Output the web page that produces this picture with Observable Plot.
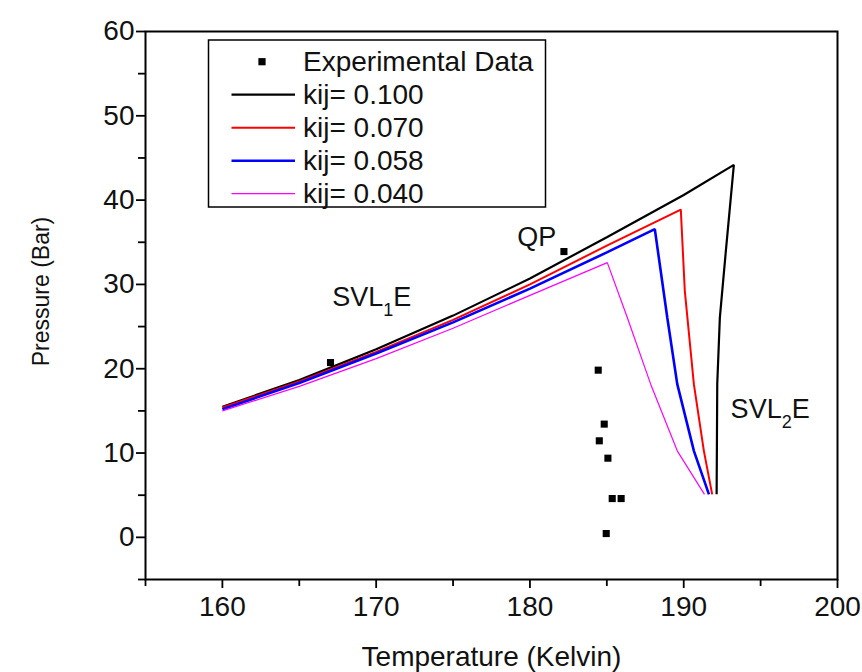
<!DOCTYPE html>
<html>
<head>
<meta charset="utf-8">
<script src="https://cdn.jsdelivr.net/npm/d3@7"></script>
<script src="https://cdn.jsdelivr.net/npm/@observablehq/plot@0.6"></script>
<style>
  html, body { margin: 0; padding: 0; background: #ffffff; }
  #chart { width: 862px; height: 672px; }
</style>
</head>
<body>
<div id="chart"></div>
<script>
// ---------- data ----------
const seriesNames  = ["kij= 0.100", "kij= 0.070", "kij= 0.058", "kij= 0.040"];
const seriesColors = ["#000000", "#ff0000", "#0000ff", "#ff00ff"];
const seriesWidths = [2.2, 2, 2.6, 1.2];

const k100T = [160, 165, 170, 175, 180, 185, 190, 193.26, 192.74, 192.35, 192.18, 192.14];
const k100P = [15.5, 18.65, 22.3, 26.3, 30.7, 35.6, 40.6, 44.18, 33.98, 26.07, 18.17, 5.1];

const k070T = [160, 165, 170, 175, 180, 185, 189.81, 190.07, 190.66, 191.31, 191.85];
const k070P = [15.4, 18.5, 22.0, 25.8, 30.0, 34.6, 38.88, 29.24, 18.17, 10.26, 5.1];

const k058T = [160, 165, 170, 175, 180, 185, 188.12, 188.93, 189.58, 190.66, 191.64];
const k058P = [15.2, 18.3, 21.8, 25.5, 29.5, 33.8, 36.56, 26.07, 18.17, 10.26, 5.1];

const k040T = [160, 165, 170, 175, 180, 185.03, 186.33, 187.85, 189.58, 191.35];
const k040P = [15.0, 17.9, 21.2, 24.8, 28.7, 32.59, 26.07, 18.17, 10.26, 5.1];

const expT = [167.03, 182.21, 184.44, 184.83, 184.51, 185.07, 185.35, 185.93, 184.96];
const expP = [20.73, 33.9, 19.83, 13.43, 11.45, 9.39, 4.6, 4.6, 0.45];

const annotText = ["SVL|1|E", "QP", "SVL|2|E"];
const annotT = [167.14, 179.18, 193.05];
const annotP = [27.46, 34.57, 14.21];

const xMajor = [160, 170, 180, 190, 200];
const xMinor = [155, 165, 175, 185, 195];
const yMajor = [0, 10, 20, 30, 40, 50, 60];
const yMinor = [-5, 5, 15, 25, 35, 45, 55];

// ---------- tables ----------
const seriesT = [k100T, k070T, k058T, k040T];
const seriesP = [k100P, k070P, k058P, k040P];
const lines = [];
seriesNames.forEach((name, i) => {
  seriesT[i].forEach((t, j) => lines.push({series: name, T: t, P: seriesP[i][j], idx: i}));
});
const exp = expT.map((t, i) => ({T: t, P: expP[i]}));
const annots = annotText.map((s, i) => ({text: s, T: annotT[i], P: annotP[i]}));

const font = "'Liberation Sans', Arial, Helvetica, sans-serif";

const lineMarks = seriesNames.map((name, i) =>
  Plot.line(lines.filter(d => d.idx === i), {
    x: "T", y: "P", stroke: seriesColors[i], strokeWidth: seriesWidths[i],
    strokeLinejoin: "miter", strokeLinecap: "butt"
  })
);

const chart = Plot.plot({
  width: 862,
  height: 672,
  marginLeft: 145,
  marginRight: 25,
  marginTop: 31,
  marginBottom: 93,
  style: {fontFamily: font, background: "#ffffff", color: "#000000", overflow: "visible"},
  x: {domain: [155, 200]},
  y: {domain: [-5, 60]},
  marks: [
    Plot.axisX({ticks: xMinor, tickSize: 7, tickFormat: () => "", strokeWidth: 1.8, label: null}),
    Plot.axisX({ticks: xMajor, tickSize: 9, tickPadding: 8, tickFormat: d3.format("d"),
      fontSize: 28, strokeWidth: 1.8, label: "Temperature (Kelvin)", labelAnchor: "center",
      labelOffset: 86, labelArrow: "none"}),
    Plot.axisY({ticks: yMinor, tickSize: 7, tickFormat: () => "", strokeWidth: 1.8, label: null}),
    Plot.axisY({ticks: yMajor, tickSize: 9, tickPadding: 2, tickFormat: d3.format("d"),
      fontSize: 28, strokeWidth: 1.8, label: "Pressure (Bar)", labelAnchor: "center",
      labelOffset: 113, labelArrow: "none"}),
    Plot.frame({stroke: "#000000", strokeWidth: 2}),
    ...lineMarks,
    Plot.dot(exp, {x: "T", y: "P", symbol: "square", r: 4, fill: "#000000", stroke: null}),
    Plot.text(annots, {x: "T", y: "P", text: "text", textAnchor: "start", lineAnchor: "bottom",
      fontSize: 27, fill: "#111111", className: "annot"})
  ]
});

document.getElementById("chart").appendChild(chart);

const svg = d3.select(chart);
// axis text sizes
svg.selectAll("[aria-label='x-axis tick label'] text, [aria-label='y-axis tick label'] text")
  .style("font-size", "28px").attr("fill", "#111");
svg.selectAll("[aria-label='x-axis label'] text").style("font-size", "28px").attr("fill", "#111");
svg.selectAll("[aria-label='y-axis label'] text").style("font-size", "23px").attr("fill", "#111");
svg.selectAll("[aria-label='y-axis label']").each(function () {
  const g = d3.select(this);
  g.attr("transform", (g.attr("transform") || "") + " translate(0,-14)");
});

// subscripts in annotations
svg.selectAll(".annot text").each(function () {
  const t = d3.select(this);
  const parts = t.text().split("|");
  if (parts.length === 3) {
    t.text(null);
    t.append("tspan").text(parts[0]);
    t.append("tspan").attr("dy", 10).style("font-size", "18px").text(parts[1]);
    t.append("tspan").attr("dy", -10).text(parts[2]);
  }
});

// legend
const lg = svg.append("g").attr("class", "legend")
  .style("font-family", font).attr("text-anchor", "start");
const lx = 208.5, ly = 40, lw = 337, lh = 167;
lg.append("rect").attr("x", lx).attr("y", ly).attr("width", lw).attr("height", lh)
  .attr("fill", "#ffffff").attr("stroke", "#000000").attr("stroke-width", 1.5);
const rowH = 33, row0 = 61.7;
const legendRows = [{label: "Experimental Data", type: "dot"}]
  .concat(seriesNames.map((n, i) => ({label: n, type: "line", color: seriesColors[i], w: seriesWidths[i]})));
legendRows.forEach((r, i) => {
  const cy = row0 + i * rowH;
  if (r.type === "dot") {
    lg.append("rect").attr("x", 262 - 3.6).attr("y", cy - 3.6).attr("width", 7.2).attr("height", 7.2).attr("fill", "#000");
  } else {
    lg.append("line").attr("x1", 231.5).attr("x2", 295).attr("y1", cy).attr("y2", cy)
      .attr("stroke", r.color).attr("stroke-width", r.w);
  }
  lg.append("text").attr("x", 303).attr("y", cy + 9.5).attr("text-anchor", "start")
    .style("font-size", "28px").attr("fill", "#111").text(r.label);
});
</script>
</body>
</html>
